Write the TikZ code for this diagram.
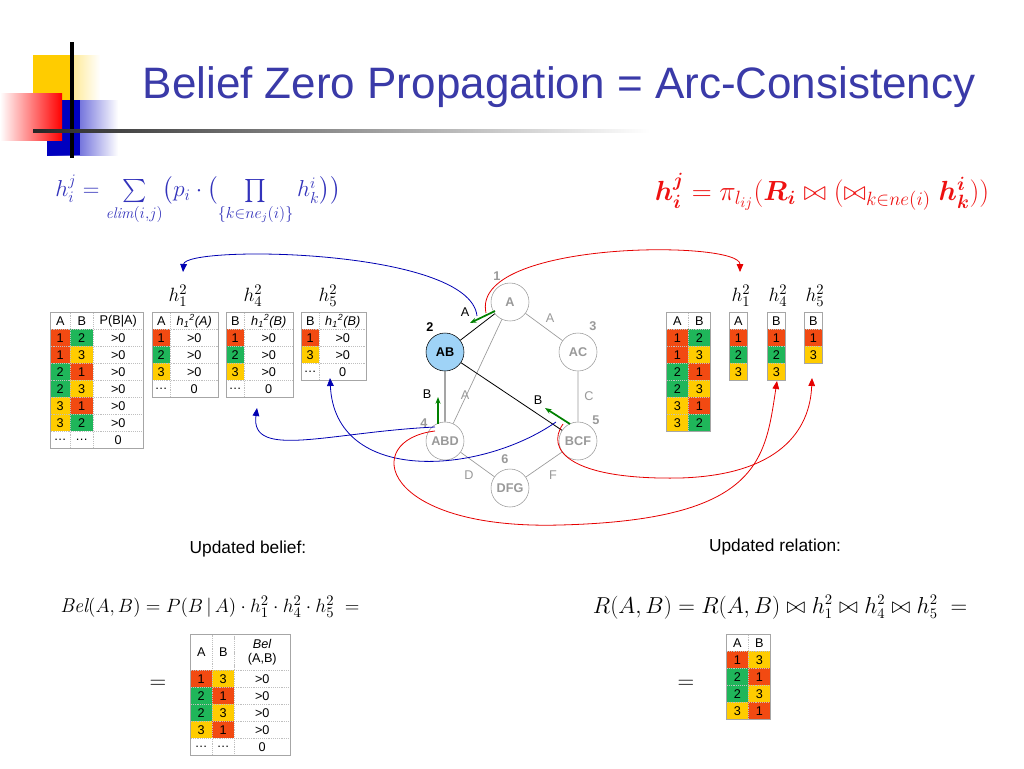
\documentclass[tikz,border=0pt]{standalone}
\usepackage{amsmath}
\usepackage{fontspec}
\setsansfont{Liberation Sans}
\usetikzlibrary{arrows.meta}
\definecolor{cr}{HTML}{F24A12}
\definecolor{cg}{HTML}{1FB65A}
\definecolor{cy}{HTML}{FFCC00}
\definecolor{cw}{HTML}{FFFFFF}
\definecolor{ttl}{HTML}{3A3AA8}
\definecolor{fblue}{HTML}{3333BB}
\definecolor{fred}{HTML}{EE1111}
\definecolor{ngray}{HTML}{999999}
\definecolor{abfill}{HTML}{9FD3F7}
\tikzset{
 cellbox/.style={draw=gray!50,densely dotted,inner sep=0pt,anchor=north west,font=\sffamily\fontsize{9.5}{10}\selectfont},
 frame/.style={draw=gray!70,line width=0.6pt},
 gnode/.style={circle,draw=ngray,fill=white,minimum size=28.5pt,inner sep=0pt,font=\sffamily\bfseries\fontsize{9.5}{10}\selectfont,text=ngray},
 gnum/.style={font=\sffamily\bfseries\fontsize{9.5}{10}\selectfont,text=ngray},
 glab/.style={font=\sffamily\fontsize{9.5}{10}\selectfont,text=ngray},
 blab/.style={font=\sffamily\fontsize{9.5}{10}\selectfont},
 gedge/.style={draw=ngray,line width=0.5pt},
 bedge/.style={draw=black,line width=0.6pt},
 garr/.style={draw=green!50!black,line width=1.3pt,-{Stealth[length=5pt]}},
 bcurve/.style={draw=blue!70!black,line width=0.6pt,-{Triangle[length=6pt,width=5pt]}},
 rcurve/.style={draw=red!90!black,line width=0.6pt,-{Triangle[length=6pt,width=5pt]}},
 hlab/.style={font=\fontsize{15}{16}\selectfont},
}
\newcommand\cell[6]{\node[cellbox,fill=#5,minimum width=#3*0.75pt,minimum height=#4*0.75pt] at (#1,#2) {#6};}
\begin{document}
\begin{tikzpicture}[x=0.75pt,y=-0.75pt]
\useasboundingbox (0,0) rectangle (1024,768);
% logo
\shade[left color=cy,right color=white] (33,55) rectangle (100,100);
\fill[cy] (33,55) rectangle (70,100);
\shade[left color=blue!75!black,right color=white] (47,100) rectangle (118,155);
\fill[blue!75!black] (47,100) rectangle (80,155);
\shade[left color=white,right color=red] (0,93) rectangle (62,140);
\draw[black,line width=2.5pt] (72,42) -- (72,158);
\shade[left color=black!85,right color=white] (33,129.5) rectangle (650,132.5);
\node[anchor=west,text=ttl,font=\sffamily\fontsize{33}{36}\selectfont] (title) at (138,87) {Belief Zero Propagation = Arc-Consistency};
% formulas
\node[text=fblue,font=\fontsize{16.5}{18}\selectfont] (f1) at (198,200) {$h_i^j=\sum\limits_{\mathit{elim}(i,j)}\bigl(p_i\cdot\bigl(\prod\limits_{\{k\in ne_j(i)\}}h_k^i\bigr)\bigr)$};
\node[text=fred,font=\fontsize{21}{22}\selectfont] (f2) at (822,192) {$\boldsymbol{h_i^j}=\pi_{l_{ij}}(\boldsymbol{R_i}\bowtie(\bowtie_{k\in ne(i)}\boldsymbol{h_k^i}))$};
% left tables
\cell{50}{312}{20}{17}{cw}{A}\cell{70}{312}{23}{17}{cw}{B}\cell{93}{312}{50}{17}{cw}{P(B|A)}
\foreach \a/\ca/\b/\cb/\p [count=\i] in {1/cr/2/cg/>0,1/cr/3/cy/>0,2/cg/1/cr/>0,2/cg/3/cy/>0,3/cy/1/cr/>0,3/cy/2/cg/>0,\dots/cw/\dots/cw/0}{
 \cell{50}{312+17*\i}{20}{17}{\ca}{\a}\cell{70}{312+17*\i}{23}{17}{\cb}{\b}\cell{93}{312+17*\i}{50}{17}{cw}{\p}}
\draw[frame] (50,312) rectangle (143,448);
\cell{152}{312}{18}{17}{cw}{A}\cell{170}{312}{48}{17}{cw}{\textit{h\textsubscript{1}\textsuperscript{2}(A)}}
\cell{226}{312}{18}{17}{cw}{B}\cell{244}{312}{49}{17}{cw}{\textit{h\textsubscript{1}\textsuperscript{2}(B)}}
\cell{301}{312}{18}{17}{cw}{B}\cell{319}{312}{47}{17}{cw}{\textit{h\textsubscript{1}\textsuperscript{2}(B)}}
\foreach \a/\ca/\p [count=\i] in {1/cr/>0,2/cg/>0,3/cy/>0,\dots/cw/0}{
 \cell{152}{312+17*\i}{18}{17}{\ca}{\a}\cell{170}{312+17*\i}{48}{17}{cw}{\p}
 \cell{226}{312+17*\i}{18}{17}{\ca}{\a}\cell{244}{312+17*\i}{49}{17}{cw}{\p}}
\foreach \a/\ca/\p [count=\i] in {1/cr/>0,3/cy/>0,\dots/cw/0}{
 \cell{301}{312+17*\i}{18}{17}{\ca}{\a}\cell{319}{312+17*\i}{47}{17}{cw}{\p}}
\draw[frame] (152,312) rectangle (218,397);
\draw[frame] (226,312) rectangle (293,397);
\draw[frame] (301,312) rectangle (366,380);
\node[hlab] (L1) at (178,296) {$h_1^2$};
\node[hlab] (L4) at (253,296) {$h_4^2$};
\node[hlab] (L5) at (328,296) {$h_5^2$};
% right tables
\cell{666}{312}{22}{17}{cw}{A}\cell{688}{312}{22}{17}{cw}{B}
\foreach \a/\ca/\b/\cb [count=\i] in {1/cr/2/cg,1/cr/3/cy,2/cg/1/cr,2/cg/3/cy,3/cy/1/cr,3/cy/2/cg}{
 \cell{666}{312+17*\i}{22}{17}{\ca}{\a}\cell{688}{312+17*\i}{22}{17}{\cb}{\b}}
\draw[frame] (666,312) rectangle (710,431);
\cell{729}{312}{18}{17}{cw}{A}\cell{767}{312}{18}{17}{cw}{B}\cell{804}{312}{18}{17}{cw}{B}
\foreach \a/\ca [count=\i] in {1/cr,2/cg,3/cy}{\cell{729}{312+17*\i}{18}{17}{\ca}{\a}\cell{767}{312+17*\i}{18}{17}{\ca}{\a}}
\foreach \a/\ca [count=\i] in {1/cr,3/cy}{\cell{804}{312+17*\i}{18}{17}{\ca}{\a}}
\draw[frame] (729,312) rectangle (747,380);
\draw[frame] (767,312) rectangle (785,380);
\draw[frame] (804,312) rectangle (822,363);
\node[hlab] (R1) at (741,296) {$h_1^2$};
\node[hlab] (R4) at (778,296) {$h_4^2$};
\node[hlab] (R5) at (815,296) {$h_5^2$};
% graph
\node[gnode] (A) at (510,302) {A};
\node[gnode,draw=black,fill=abfill,text=black] (AB) at (445,352) {AB};
\node[gnode] (AC) at (578,352) {AC};
\node[gnode] (ABD) at (445,441) {ABD};
\node[gnode] (BCF) at (578,441) {BCF};
\node[gnode] (DFG) at (510,488) {DFG};
\draw[gedge] (A) -- (AC) (AC) -- (BCF) (A) -- (ABD) (ABD) -- (DFG) (BCF) -- (DFG);
\draw[bedge] (A) -- (AB) (AB) -- (ABD) (AB) -- (BCF);
\node[gnum] (n1) at (497,276) {1};
\node[gnum,text=black] (n2) at (430,327) {2};
\node[gnum] (n3) at (593,326) {3};
\node[gnum] (n4) at (424,423) {4};
\node[gnum] (n5) at (596,420) {5};
\node[gnum] (n6) at (505,459) {6};
\node[glab] (lA1) at (550,318) {A};
\node[glab] (lC) at (589,396) {C};
\node[glab] (lA2) at (465,395) {A};
\node[glab] (lD) at (469,475) {D};
\node[glab] (lF) at (553,475) {F};
\node[blab] (bA) at (465,312) {A};
\node[blab] (bB1) at (427,394) {B};
\node[blab] (bB2) at (538,400) {B};
\coordinate (g1s) at (495,311); \coordinate (g1e) at (470,323);
\coordinate (g2s) at (438,424); \coordinate (g2e) at (438,397);
\coordinate (g3s) at (570,424); \coordinate (g3e) at (545,408);
\draw[garr] (g1s) -- (g1e);
\draw[garr] (g2s) -- (g2e);
\draw[garr] (g3s) -- (g3e);
% curves
\coordinate (cb1) at (477,316); \coordinate (cb2) at (435,427); \coordinate (cb3) at (556,422);
\coordinate (cr1) at (486,313); \coordinate (cr2) at (435,431); \coordinate (cr3) at (563,424);
\coordinate (tb1) at (183,272); \coordinate (tb4) at (257,408); \coordinate (tb5) at (330,378);
\coordinate (tr1) at (740,272); \coordinate (tr4) at (777,381); \coordinate (tr5) at (812,378);
\draw[bcurve] (cb1) .. controls (470,248) and (185,245) .. (tb1);
\draw[bcurve] (cb2) .. controls (330,432) and (250,460) .. (tb4);
\draw[bcurve] (cb3) .. controls (480,475) and (335,485) .. (tb5);
\draw[rcurve] (cr1) .. controls (470,240) and (740,240) .. (tr1);
\draw[rcurve] (cr2) .. controls (360,440) and (380,530) .. (560,525) .. controls (760,520) and (765,460) .. (tr4);
\draw[rcurve] (cr3) .. controls (545,450) and (570,480) .. (680,478) .. controls (780,475) and (810,430) .. (tr5);
% bottom
\node[font=\sffamily\fontsize{13}{14}\selectfont] (ub) at (248,549) {Updated belief:};
\node[font=\sffamily\fontsize{13}{14}\selectfont] (ur) at (775,547) {Updated relation:};
\node[font=\fontsize{15}{17}\selectfont] (fb) at (210,607) {$\mathit{Bel}(A,B)=P(B\,|\,A)\cdot h_1^2\cdot h_4^2\cdot h_5^2\;=$};
\node[font=\fontsize{16}{17}\selectfont] (fr) at (780,607) {$R(A,B)=R(A,B)\bowtie h_1^2\bowtie h_4^2\bowtie h_5^2\;=$};
\node[font=\fontsize{16}{17}\selectfont] (eq1) at (158,684) {$=$};
\node[font=\fontsize{16}{17}\selectfont] (eq2) at (686,684) {$=$};
\cell{190}{634}{22}{36}{cw}{A}\cell{212}{634}{22}{36}{cw}{B}
\node[cellbox,minimum width=42pt,minimum height=27pt,align=center] at (234,634) {\textit{Bel}\\(A,B)};
\foreach \a/\ca/\b/\cb/\p [count=\i] in {1/cr/3/cy/>0,2/cg/1/cr/>0,2/cg/3/cy/>0,3/cy/1/cr/>0,\dots/cw/\dots/cw/0}{
 \cell{190}{653+17*\i}{22}{17}{\ca}{\a}\cell{212}{653+17*\i}{22}{17}{\cb}{\b}\cell{234}{653+17*\i}{56}{17}{cw}{\p}}
\draw[frame] (190,634) rectangle (290,755);
\cell{726}{634}{22}{17}{cw}{A}\cell{748}{634}{22}{17}{cw}{B}
\foreach \a/\ca/\b/\cb [count=\i] in {1/cr/3/cy,2/cg/1/cr,2/cg/3/cy,3/cy/1/cr}{
 \cell{726}{634+17*\i}{22}{17}{\ca}{\a}\cell{748}{634+17*\i}{22}{17}{\cb}{\b}}
\draw[frame] (726,634) rectangle (770,719);
\end{tikzpicture}
\end{document}
